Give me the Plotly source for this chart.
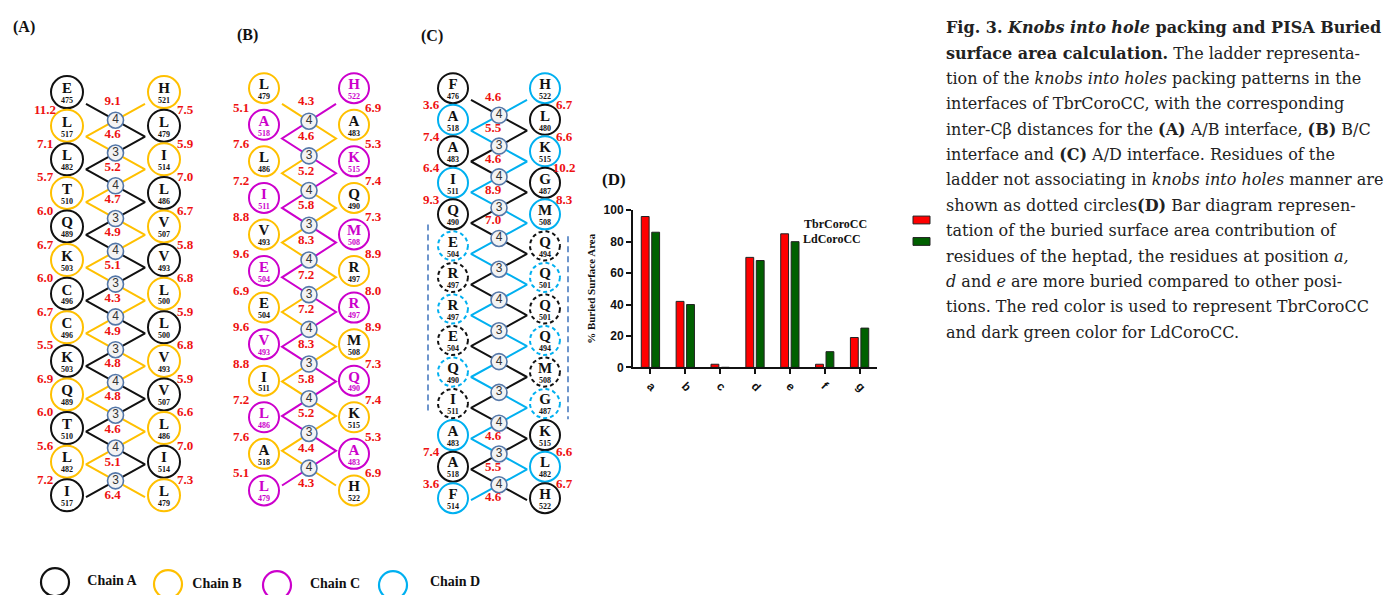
import numpy as np
import plotly.graph_objects as go

W, H = 1399, 603          # reference picture size
OFF = 8                    # browser body margin
FW, FH = W - 2 * OFF, H - 2 * OFF

# ---------------- Data ----------------
# Panel (A): A/B interface
A_left = ["E475", "L517", "L482", "T510", "Q489", "K503", "C496", "C496", "K503", "Q489", "T510", "L482", "I517"]
A_right = ["H521", "L479", "I514", "L486", "V507", "V493", "L500", "L500", "V493", "V507", "L486", "I514", "L479"]
A_chains = ("A", "B")
A_center = [9.1, 4.6, 5.2, 4.7, 4.9, 5.1, 4.3, 4.9, 4.8, 4.8, 4.6, 5.1, 6.4]
A_left_dist = [11.2, 7.1, 5.7, 6.0, 6.7, 6.0, 6.7, 5.5, 6.9, 6.0, 5.6, 7.2]
A_right_dist = [7.5, 5.9, 7.0, 6.7, 5.8, 6.8, 5.9, 6.8, 5.9, 6.6, 7.0, 7.3]
A_knobs = [4, 3, 4, 3, 4, 3, 4, 3, 4, 3, 4, 3]
A_dashed = [False] * 13

# Panel (B): B/C interface
B_left = ["L479", "A518", "L486", "I511", "V493", "E504", "E504", "V493", "I511", "L486", "A518", "L479"]
B_right = ["H522", "A483", "K515", "Q490", "M508", "R497", "R497", "M508", "Q490", "K515", "A483", "H522"]
B_chains = ("B", "C")
B_center = [4.3, 4.6, 5.2, 5.8, 8.3, 7.2, 7.2, 8.3, 5.8, 5.2, 4.4, 4.3]
B_left_dist = [5.1, 7.6, 7.2, 8.8, 9.6, 6.9, 9.6, 8.8, 7.2, 7.6, 5.1]
B_right_dist = [6.9, 5.3, 7.4, 7.3, 8.9, 8.0, 8.9, 7.3, 7.4, 5.3, 6.9]
B_knobs = [4, 3, 4, 3, 4, 3, 4, 3, 4, 3, 4]
B_dashed = [False] * 12

# Panel (C): A/D interface
C_left = ["F476", "A518", "A483", "I511", "Q490", "E504", "R497", "R497", "E504", "Q490", "I511", "A483", "A518", "F514"]
C_right = ["H522", "L480", "K515", "G487", "M508", "Q494", "Q501", "Q501", "Q494", "M508", "G487", "K515", "L482", "H522"]
C_chains = ("A", "D")
C_center = [4.6, 5.5, 4.6, 8.9, 7.0, None, None, None, None, None, None, 4.6, 5.5, 4.6]
C_left_dist = [3.6, 7.4, 6.4, 9.3, None, None, None, None, None, None, None, 7.4, 3.6]
C_right_dist = [6.7, 6.6, 10.2, 8.3, None, None, None, None, None, None, None, 6.6, 6.7]
C_knobs = [4, 3, 4, 3, 4, 3, 4, 3, 4, 3, 4, 3, 4]
C_dashed = [False, False, False, False, False, True, True, True, True, True, True, False, False, False]

# Chain legend
legend_chains = ["A", "B", "C", "D"]
legend_labels = ["Chain A", "Chain B", "Chain C", "Chain D"]

# Panel (D): buried surface area
positions = ["a", "b", "c", "d", "e", "f", "g"]
tbr_values = [96, 42, 2, 70, 85, 2, 19]
ld_values = [86, 40, 0, 68, 80, 10, 25]

caption_lines = [
    "<b>Fig. 3. <i>Knobs into hole</i> packing and PISA Buried</b>",
    "<b>surface area calculation.</b> The ladder representa-",
    "tion of the <i>knobs into holes</i> packing patterns in the",
    "interfaces of TbrCoroCC, with the corresponding",
    "inter-Cβ distances for the <b>(A)</b> A/B interface, <b>(B)</b> B/C",
    "interface and <b>(C)</b> A/D interface. Residues of the",
    "ladder not associating in <i>knobs into holes</i> manner are",
    "shown as dotted circles<b>(D)</b> Bar diagram represen-",
    "tation of the buried surface area contribution of",
    "residues of the heptad, the residues at position <i>a,</i>",
    "<i>d</i> and <i>e</i> are more buried compared to other posi-",
    "tions. The red color is used to represent TbrCoroCC",
    "and dark green color for LdCoroCC.",
]

# ---------------- Styles ----------------
CHAIN_COLORS = {"A": "#111111", "B": "#FFC000", "C": "#CC00CC", "D": "#00B0F0"}
TEXT_COLORS = {"A": "#111111", "B": "#111111", "C": "#CC00CC", "D": "#111111"}
RED = "#EE1111"
SERIF = "Liberation Serif"

fig = go.Figure()


def draw_panel(left, right, chains, center, ldist, rdist, knobs, dashed, g):
    n = len(left)
    ys = np.linspace(g["y0"], g["y1"], n)
    t = np.arange(n) / (n - 1)
    vy = ys + g["off0"] + (g["off1"] - g["off0"]) * t
    r = g["size"] / 2
    xl, xr = g["xL"], g["xR"]
    xlv, xrv = xl + r + 3, xr - r - 3
    xm = (xlv + xrv) / 2
    lchain = [chains[i % 2] for i in range(n)]
    rchain = [chains[(i + 1) % 2] for i in range(n)]

    # zig-zag chains
    for k in (1, 0):
        xs = [(xlv if (i + k) % 2 == 0 else xrv) for i in range(n)]
        fig.add_trace(go.Scatter(x=xs, y=vy, mode="lines",
                                 line=dict(color=CHAIN_COLORS[chains[k]], width=2),
                                 hoverinfo="skip", showlegend=False))
    # knobs
    ky = (vy[:-1] + vy[1:]) / 2
    fig.add_trace(go.Scatter(x=[xm] * len(knobs), y=ky, mode="markers+text",
                             text=[str(v) for v in knobs], textposition="middle center",
                             textfont=dict(family="Liberation Sans", size=12, color="#333333"),
                             marker=dict(size=16, color="#F3F3F3",
                                         line=dict(color="#5477A8", width=1.6)),
                             hoverinfo="skip", showlegend=False))
    # residues
    cx, cy, cols, names, tcols, dsh = [], [], [], [], [], []
    for i in range(n):
        for x, nm, ch in ((xl, left[i], lchain[i]), (xr, right[i], rchain[i])):
            cx.append(x); cy.append(ys[i]); cols.append(CHAIN_COLORS[ch])
            names.append(nm); tcols.append(TEXT_COLORS[ch]); dsh.append(dashed[i])
    sx = [x for x, d in zip(cx, dsh) if not d]
    sy = [y for y, d in zip(cy, dsh) if not d]
    sc = [c for c, d in zip(cols, dsh) if not d]
    fig.add_trace(go.Scatter(x=sx, y=sy, mode="markers",
                             marker=dict(size=g["size"], color="white",
                                         line=dict(color=sc, width=2)),
                             hoverinfo="skip", showlegend=False))
    th = np.linspace(0, 2 * np.pi, 73)
    for x, y, c, d in zip(cx, cy, cols, dsh):
        if d:
            fig.add_trace(go.Scatter(x=x + r * np.cos(th), y=y + r * np.sin(th), mode="lines",
                                     line=dict(color=c, width=2, dash="4px,3px"),
                                     hoverinfo="skip", showlegend=False))
    fig.add_trace(go.Scatter(x=cx, y=np.array(cy) - 3, mode="text",
                             text=["<b>%s</b>" % nm[0] for nm in names],
                             textfont=dict(family=SERIF, size=15, color=tcols),
                             hoverinfo="skip", showlegend=False))
    fig.add_trace(go.Scatter(x=cx, y=np.array(cy) + 9, mode="text",
                             text=["<b>%s</b>" % nm[1:] for nm in names],
                             textfont=dict(family=SERIF, size=8, color=tcols),
                             hoverinfo="skip", showlegend=False))
    # distances
    lx, ly, lt = [], [], []
    for i, v in enumerate(center):
        if v is not None:
            lx.append(xm + g["cdx"]); ly.append(vy[i] - 2); lt.append("<b>%.1f</b>" % v)
    mids = (ys[:-1] + ys[1:]) / 2
    for i, v in enumerate(ldist):
        if v is not None:
            lx.append(xl + g["ldx"]); ly.append(mids[i] + 2); lt.append("<b>%.1f</b>" % v)
    for i, v in enumerate(rdist):
        if v is not None:
            lx.append(xr + g["rdx"]); ly.append(mids[i] + 2); lt.append("<b>%.1f</b>" % v)
    fig.add_trace(go.Scatter(x=lx, y=ly, mode="text", text=lt,
                             textfont=dict(family=SERIF, size=13, color=RED),
                             hoverinfo="skip", showlegend=False))
    # dashed bracket lines for the non-KIH region
    if any(dashed):
        idx = [i for i, d in enumerate(dashed) if d]
        ya, yb = ys[idx[0]] - 22, ys[idx[-1]] + 8
        for x, y_a, y_b in ((xl - 25, ya, yb), (xr + 23, ya + 12, yb + 8)):
            fig.add_trace(go.Scatter(x=[x, x], y=[y_a, y_b], mode="lines",
                                     line=dict(color="#4A7CC0", width=1.6, dash="6px,4px"),
                                     hoverinfo="skip", showlegend=False))


draw_panel(A_left, A_right, A_chains, A_center, A_left_dist, A_right_dist, A_knobs, A_dashed,
           dict(xL=67, xR=164, y0=87, y1=500, size=32, off0=12, off1=2, cdx=-3, ldx=-22, rdx=21))
draw_panel(B_left, B_right, B_chains, B_center, B_left_dist, B_right_dist, B_knobs, B_dashed,
           dict(xL=264, xR=354, y0=83, y1=495, size=30, off0=16, off1=-5, cdx=-3, ldx=-23, rdx=19))
draw_panel(C_left, C_right, C_chains, C_center, C_left_dist, C_right_dist, C_knobs, C_dashed,
           dict(xL=453, xR=545, y0=83, y1=503, size=30, off0=12, off1=2, cdx=-6, ldx=-22, rdx=19))

# chain legend
leg_x = [55, 168, 277, 393]
leg_tx = [112, 217, 335, 455]
fig.add_trace(go.Scatter(x=leg_x, y=[589, 591, 592, 592], mode="markers",
                         marker=dict(size=28, color="white",
                                     line=dict(color=[CHAIN_COLORS[c] for c in legend_chains], width=2.2)),
                         cliponaxis=False, hoverinfo="skip", showlegend=False))
fig.add_trace(go.Scatter(x=leg_tx, y=[588, 591, 591, 589], mode="text",
                         text=["<b>%s</b>" % s for s in legend_labels],
                         textfont=dict(family=SERIF, size=14, color="#111111"),
                         cliponaxis=False, hoverinfo="skip", showlegend=False))

# ---------------- Bar chart (D) ----------------
fig.add_trace(go.Bar(x=positions, y=tbr_values, name="TbrCoroCC", xaxis="x2", yaxis="y2",
                     marker=dict(color="#FF0000", line=dict(color="#222222", width=1)),
                     showlegend=False))
fig.add_trace(go.Bar(x=positions, y=ld_values, name="LdCoroCC", xaxis="x2", yaxis="y2",
                     marker=dict(color="#006000", line=dict(color="#222222", width=1)),
                     showlegend=False))

annotations = []


def ann(text, x, y, size, family=SERIF, color="#111111", xanchor="center"):
    annotations.append(dict(text=text, x=x, y=y, xref="x", yref="y", showarrow=False,
                            xanchor=xanchor, yanchor="middle",
                            font=dict(family=family, size=size, color=color)))


ann("<b>(A)</b>", 24, 20, 16)
ann("<b>(B)</b>", 247, 28, 16)
ann("<b>(C)</b>", 432, 30, 16)
ann("<b>(D)</b>", 614, 177, 17)
ann("<b>TbrCoroCC</b>", 835, 222, 12)
ann("<b>LdCoroCC</b>", 832, 237, 12)

for i, line in enumerate(caption_lines):
    ann(line, 944, 21 + 26 * i, 16, family="DejaVu Serif", color="#222222", xanchor="left")

shapes = [
    dict(type="rect", xref="x", yref="y", x0=913, x1=930, y0=214, y1=222,
         fillcolor="#FF0000", line=dict(color="#222222", width=1)),
    dict(type="rect", xref="x", yref="y", x0=913, x1=930, y0=236, y1=244,
         fillcolor="#006000", line=dict(color="#222222", width=1)),
]


def px_x(v):
    return (v - OFF) / FW


def px_y(v):
    return (H - OFF - v) / FH


fig.update_layout(
    width=FW, height=FH,
    margin=dict(l=0, r=0, t=0, b=0),
    paper_bgcolor="white", plot_bgcolor="white",
    barmode="group", bargap=0.4, bargroupgap=0.25,
    xaxis=dict(range=[OFF, W - OFF], visible=False, fixedrange=True, domain=[0, 1]),
    yaxis=dict(range=[H - OFF, OFF], visible=False, fixedrange=True, domain=[0, 1]),
    xaxis2=dict(domain=[px_x(633), px_x(877)], anchor="y2", type="category",
                range=[-0.5, 6.5], showline=True, linecolor="#111111", linewidth=2,
                ticks="outside", ticklen=5, tickwidth=2, tickcolor="#111111",
                tickangle=45, showgrid=False, zeroline=False,
                tickfont=dict(family="Liberation Sans", size=12, color="#111111", weight="bold")),
    yaxis2=dict(domain=[px_y(369), px_y(208)], anchor="x2", range=[0, 100],
                tickvals=[0, 20, 40, 60, 80, 100], showline=True, linecolor="#111111",
                linewidth=2, ticks="outside", ticklen=5, tickwidth=2, tickcolor="#111111",
                showgrid=False, zeroline=False,
                tickfont=dict(family="Liberation Sans", size=12, color="#111111", weight="bold"),
                title=dict(text="<b>% Buried Surface Area</b>", standoff=6,
                           font=dict(family=SERIF, size=11, color="#111111"))),
    annotations=annotations,
    shapes=shapes,
)

fig.write_html("out.html")
